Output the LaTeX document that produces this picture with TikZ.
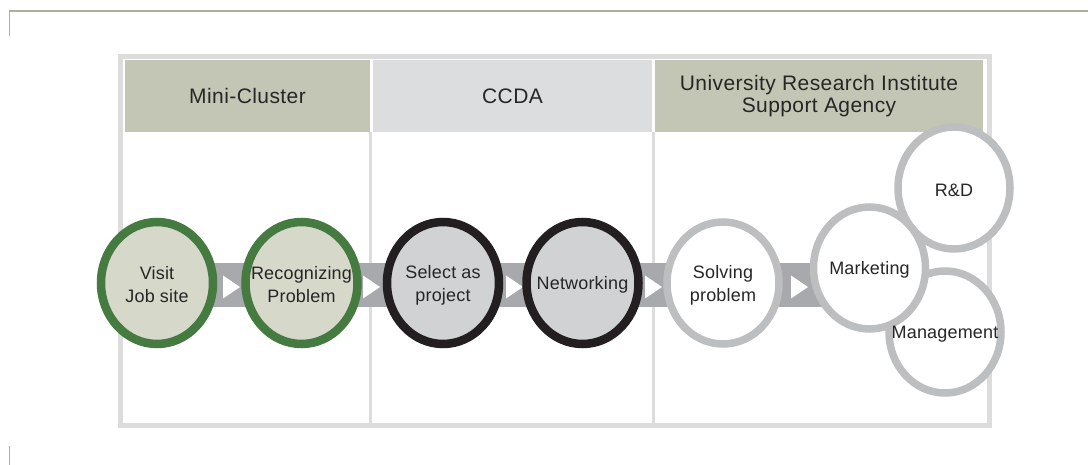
\documentclass[tikz,border=0pt]{standalone}
\usepackage{fontspec}
\setmainfont{Liberation Sans}
\newfontfamily\headfont[LetterSpace=2]{Liberation Sans}
\newfontfamily\lblfont[LetterSpace=1]{Liberation Sans}
\usetikzlibrary{shapes.geometric}
\definecolor{olive}{HTML}{A9B39B}
\definecolor{framegray}{HTML}{DCDCDC}
\definecolor{headgreen}{HTML}{C3C6B4}
\definecolor{headgray}{HTML}{DCDDDF}
\definecolor{bandgray}{HTML}{A7A9AC}
\definecolor{ringgreen}{HTML}{457A40}
\definecolor{fillgreen}{HTML}{D6D8CA}
\definecolor{ringblack}{HTML}{231F20}
\definecolor{fillgray}{HTML}{D1D2D4}
\definecolor{ringgray}{HTML}{BCBEC0}
\definecolor{txtcol}{HTML}{262626}
\begin{document}
\begin{tikzpicture}[x=1pt,y=-1pt,
  ring/.style={ellipse, minimum width=112pt, minimum height=122pt, inner sep=0pt, outer sep=0pt},
  greenring/.style={ring, draw=ringgreen, fill=fillgreen, line width=8.5pt},
  blackring/.style={ring, draw=ringblack, fill=fillgray, line width=8.5pt},
  grayring/.style={ring, draw=ringgray, fill=white, line width=7.5pt},
  lbl/.style={text=txtcol, font=\lblfont\fontsize{18}{23}\selectfont, align=center, inner sep=0pt, yshift=-2pt},
  headcell/.style={text=txtcol, font=\headfont\fontsize{21}{22}\selectfont, align=center, inner sep=0pt, minimum height=72pt},
  divider/.style={draw=framegray, line width=3pt},
  arrowtri/.style={fill=white}
]
\useasboundingbox (0,0) rectangle (1088,465);
% olive corner lines
\draw[olive, line width=1.5pt] (9.5,36) -- (9.5,11) -- (1088,11);
\draw[olive, line width=1.5pt] (9.5,446) -- (9.5,465);
% outer frame
\draw[framegray, line width=5pt] (120.5,56.5) rectangle (989.5,425.5);
% header cells
\node[headcell, fill=headgreen, minimum width=245pt] (h1) at (247.5,96) {Mini-Cluster};
\node[headcell, fill=headgray, minimum width=279pt] (h2) at (512.5,96) {CCDA};
\node[headcell, fill=headgreen, minimum width=328pt] (h3) at (819,96) {University Research Institute\\Support Agency};
% column dividers
\draw[divider] (370.5,132) -- (370.5,423);
\draw[divider] (653.5,132) -- (653.5,423);
% band
\fill[bandgray] (157,263) rectangle (860,307);
% triangles
\fill[arrowtri] (223,275.5) -- (240,287) -- (223,298.5) -- cycle;
\fill[arrowtri] (363,275.5) -- (380,287) -- (363,298.5) -- cycle;
\fill[arrowtri] (506,275.5) -- (523,287) -- (506,298.5) -- cycle;
\fill[arrowtri] (645,275.5) -- (662,287) -- (645,298.5) -- cycle;
\fill[arrowtri] (791,275.5) -- (808,287) -- (791,298.5) -- cycle;
% circles
\node[greenring] (visit) at (157,283) {};
\node[greenring] (recog) at (301.5,283) {};
\node[blackring] (select) at (443,283) {};
\node[blackring] (net) at (582.5,283) {};
\node[grayring] (solve) at (723,283) {};
\node[grayring] (rd) at (954,188) {};
\node[grayring] (mgmt) at (945,332) {};
\node[grayring] (mkt) at (869.5,268) {};
% labels
\node[lbl] at (visit.center) {Visit\\Job site};
\node[lbl] at (recog.center) {Recognizing\\Problem};
\node[lbl] at (select.center) {Select as\\project};
\node[lbl] at (net.center) {Networking};
\node[lbl] at (solve.center) {Solving\\problem};
\node[lbl] at (rd.center) {R\&D};
\node[lbl] at (mkt.center) {Marketing};
\node[lbl] at (mgmt.center) {Management};
\end{tikzpicture}
\end{document}
